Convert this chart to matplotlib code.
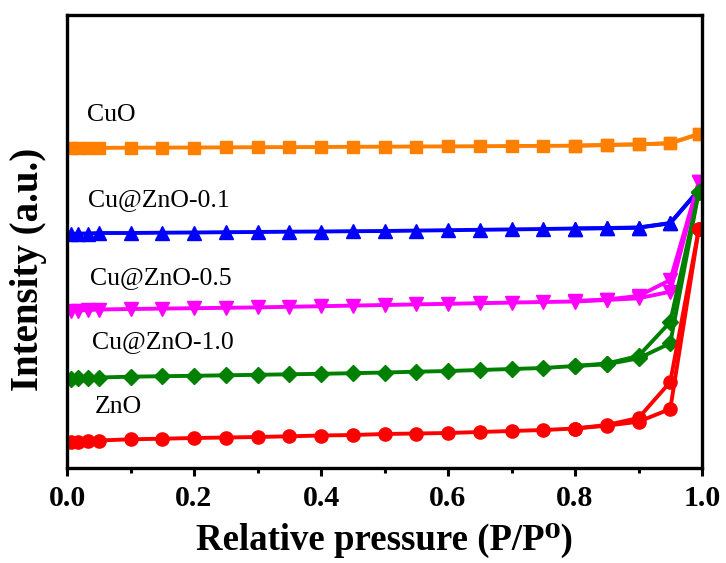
import matplotlib
matplotlib.use("Agg")
import matplotlib.pyplot as plt
from matplotlib.ticker import MultipleLocator, NullLocator

plt.rcParams['font.family'] = ['Liberation Serif', 'DejaVu Serif']

# ---------------- data ----------------
p_ads = [0.006, 0.018, 0.033, 0.05, 0.10, 0.15, 0.20, 0.25, 0.30, 0.35, 0.40, 0.45,
         0.50, 0.55, 0.60, 0.65, 0.70, 0.75, 0.80, 0.85, 0.90, 0.95, 0.995]
p_des = [0.995, 0.95, 0.90, 0.85, 0.80]

cuo_ads = [319.8, 319.9, 320.0, 320.1, 320.3, 320.4, 320.5, 320.6, 320.8, 320.9, 321.0, 321.2,
           321.3, 321.5, 321.6, 321.8, 322.0, 322.1, 322.3, 323.0, 323.7, 324.7, 334.0]
cuo_des = [334.0, 324.7, 323.7, 323.0, 322.3]

z01_ads = [234.0, 234.5, 234.5, 235.0, 235.0, 235.3, 235.5, 235.8, 236.0, 236.3, 236.5, 236.8,
           237.0, 237.4, 237.8, 238.2, 238.6, 239.0, 239.5, 239.7, 240.3, 244.7, 278.0]
z01_des = [278.0, 245.0, 240.5, 240.0, 239.5]

z05_ads = [157.0, 157.5, 158.0, 158.5, 159.0, 159.4, 159.8, 160.2, 160.6, 161.2, 161.8, 162.4,
           163.0, 163.6, 164.2, 164.8, 165.4, 166.0, 166.5, 168.0, 169.7, 176.3, 286.0]
z05_des = [286.0, 188.0, 172.0, 168.5, 167.0]

z10_ads = [89.5, 90.0, 90.0, 90.5, 91.3, 91.8, 92.2, 92.7, 93.2, 93.7, 94.2, 94.8,
           95.5, 96.3, 97.0, 98.0, 99.0, 100.0, 102.0, 103.7, 109.7, 124.7, 276.3]
z10_des = [276.3, 146.0, 112.0, 104.5, 102.0]

zno_ads = [26.0, 26.5, 27.0, 27.5, 28.7, 29.3, 30.0, 30.5, 31.0, 31.7, 32.5, 33.0,
           34.0, 34.5, 35.0, 36.0, 37.0, 38.0, 39.5, 42.3, 46.3, 59.0, 239.0]
zno_des = [239.0, 86.0, 50.0, 43.0, 39.5]

labels = ['CuO', 'Cu@ZnO-0.1', 'Cu@ZnO-0.5', 'Cu@ZnO-1.0', 'ZnO']
x_ticks = [0.0, 0.2, 0.4, 0.6, 0.8, 1.0]
x_ticklabels = ['0.0', '0.2', '0.4', '0.6', '0.8', '1.0']

series = [
    (cuo_ads, cuo_des, '#FF8000', 's', 8.5),
    (z01_ads, z01_des, '#0000FF', '^', 10),
    (z05_ads, z05_des, '#FF00FF', 'v', 10),
    (z10_ads, z10_des, '#008000', 'D', 8.5),
    (zno_ads, zno_des, '#FF0000', 'o', 9.5),
]
label_pos = [(0.031, 353), (0.033, 268), (0.037, 190), (0.039, 126), (0.043, 61)]

# ---------------- figure ----------------
fig = plt.figure(figsize=(7.26, 5.63), dpi=100)
ax = fig.add_axes([67/726, 95/563, 635/726, 453/563])

for (ads, des, c, m, ms), lab, (tx, ty) in zip(series, labels, label_pos):
    ax.plot(p_ads, ads, color=c, marker=m, ms=ms, lw=2.8, mec=c, mfc=c)
    ax.plot(p_des, des, color=c, marker=m, ms=ms, lw=2.8, mec=c, mfc=c)
    ax.text(tx, ty, lab, fontsize=18.5, ha='left', va='center', color='black')

ax.set_xlim(0, 1.0)
ax.set_ylim(0, 453)
ax.set_xticks(x_ticks)
ax.set_xticklabels(x_ticklabels, fontsize=21.5, fontweight='bold')
ax.xaxis.set_minor_locator(MultipleLocator(0.1))
ax.yaxis.set_major_locator(NullLocator())
ax.tick_params(axis='x', which='major', direction='out', length=6, width=2.2, pad=6)
ax.tick_params(axis='x', which='minor', direction='out', length=3.5, width=2.2)
for s in ax.spines.values():
    s.set_linewidth(2.4)

ax.set_xlabel('Relative pressure (P/P\u2070)', fontsize=26.5, fontweight='bold', labelpad=8)
fig.text(29/726, 1 - 269/563, 'Intensity (a.u.)', rotation=90, fontsize=28,
         fontweight='bold', ha='center', va='center')

fig.savefig('out.png', dpi=100)
